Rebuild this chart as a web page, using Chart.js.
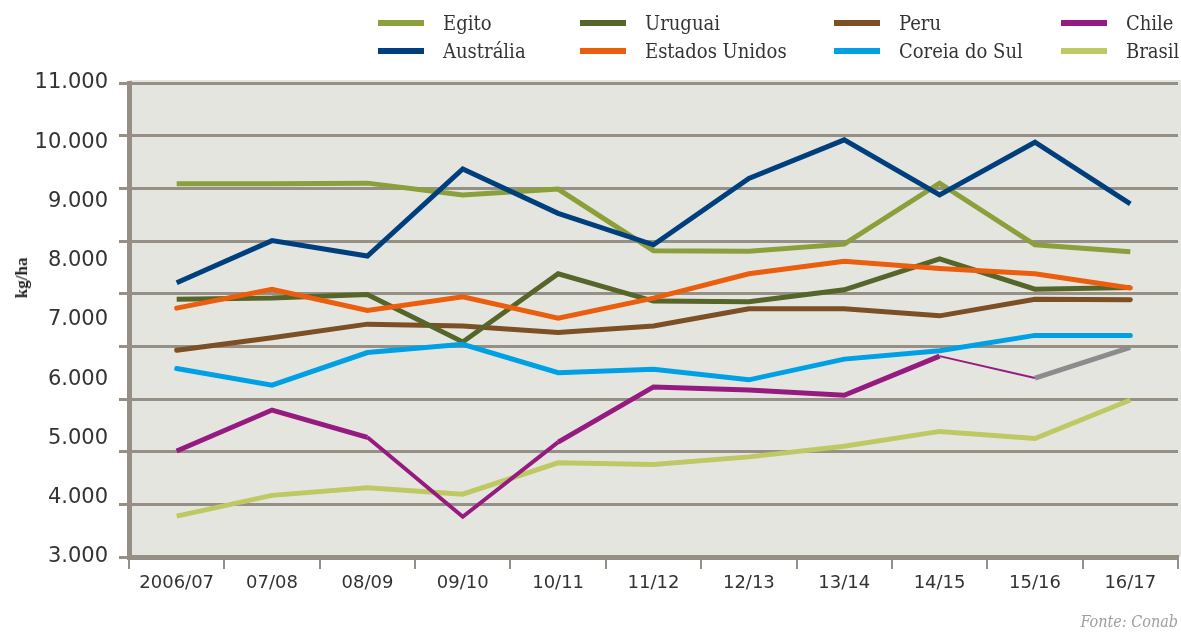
<!DOCTYPE html>
<html>
<head>
<meta charset="utf-8">
<script src="https://cdn.jsdelivr.net/npm/chart.js@4.4.0/dist/chart.umd.min.js"></script>
<style>
html,body{margin:0;padding:0;background:#ffffff;}
#wrap{position:relative;width:1181px;height:632px;overflow:hidden;background:#ffffff;}
#c{position:absolute;left:0;top:0;}
.li{position:absolute;height:28px;display:flex;align-items:center;font-family:"DejaVu Serif Condensed","DejaVu Serif",serif;font-stretch:condensed;font-size:20px;color:#333333;white-space:nowrap;}
.sw{position:absolute;left:0;top:11px;width:46px;height:6px;}
.lt{position:absolute;left:65px;top:0;line-height:28px;}
#ytitle{position:absolute;left:22px;top:278px;transform:translate(-50%,-50%) rotate(-90deg);font:bold 17px "Liberation Serif",serif;color:#222;white-space:nowrap;}
#src{position:absolute;right:3px;top:612px;font-family:"DejaVu Serif Condensed","DejaVu Serif",serif;font-stretch:condensed;font-style:italic;font-size:16px;color:#a0a0a0;}
</style>
</head>
<body>
<div id="wrap">
<canvas id="c" width="1181" height="632"></canvas>
<div id="legend"></div>
<div id="ytitle">kg/ha</div>
<div id="src">Fonte: Conab</div>
</div>
<script>
// ---- data ----
const categories = ['2006/07','07/08','08/09','09/10','10/11','11/12','12/13','13/14','14/15','15/16','16/17'];
const egito         = [9300, 9300, 9310, 9110, 9210, 8170, 8160, 8280, 9310, 8270, 8150];
const australia     = [7630, 8340, 8080, 9550, 8800, 8270, 9390, 10040, 9110, 10000, 8960];
const uruguai       = [7350, 7370, 7430, 6630, 7780, 7320, 7310, 7510, 8030, 7520, 7550];
const estadosUnidos = [7200, 7520, 7160, 7390, 7030, 7370, 7780, 7990, 7870, 7780, 7540];
const peru          = [6490, 6700, 6930, 6900, 6790, 6900, 7190, 7190, 7070, 7350, 7340];
const coreiaDoSul   = [6180, 5900, 6450, 6590, 6110, 6170, 5990, 6340, 6480, 6740, 6740];
const chile         = [4790, 5480, 5020, 3680, 4940, 5870, 5820, 5730, 6390, 6020, 6540];
const brasil        = [3690, 4040, 4170, 4060, 4590, 4560, 4690, 4870, 5120, 5000, 5650];
const yMin = 3000, yMax = 11000, yStep = 1000;
const gridCount = 9;
const legendOrder = ['Egito','Uruguai','Peru','Chile','Austrália','Estados Unidos','Coreia do Sul','Brasil'];

const GRID = '#958f86';
function fmt(v){ return String(v).replace(/\B(?=(\d{3})+(?!\d))/g, '.'); }

function ds(label, data, color, order, extra){
  return Object.assign({
    label: label, data: data, borderColor: color, backgroundColor: color,
    borderWidth: 5, pointRadius: 0, pointHoverRadius: 0, tension: 0,
    borderJoinStyle: 'miter', borderCapStyle: 'butt', fill: false, order: order
  }, extra || {});
}

const datasets = [
  ds('Egito', egito, '#8b9f3b', 4),
  ds('Austrália', australia, '#003f7d', 3),
  ds('Uruguai', uruguai, '#56652a', 5),
  ds('Estados Unidos', estadosUnidos, '#eb5e0e', 2, {borderCapStyle:'round'}),
  ds('Peru', peru, '#7c4f24', 6, {borderCapStyle:'round'}),
  ds('Coreia do Sul', coreiaDoSul, '#00a1e4', 1, {borderCapStyle:'round'}),
  ds('Chile', chile, '#961b80', 7, {
    segment: {
      borderColor: c => c.p0DataIndex === 9 ? '#8c8c8c' : undefined,
      borderWidth: c => c.p0DataIndex === 8 ? 2 : (c.p0DataIndex === 2 || c.p0DataIndex === 3 ? 4 : undefined)
    }
  }),
  ds('Brasil', brasil, '#bec963', 8)
];

const bgPlugin = {
  id: 'plotBg',
  beforeDraw(chart){
    const a = chart.chartArea, ctx = chart.ctx;
    ctx.save();
    ctx.fillStyle = '#e5e5e0';
    ctx.fillRect(a.left, a.top - 3, chart.width - a.left, a.bottom - a.top + 3);
    ctx.restore();
  }
};

new Chart(document.getElementById('c'), {
  type: 'line',
  data: { labels: categories, datasets: datasets },
  plugins: [bgPlugin],
  options: {
    responsive: false,
    animation: false,
    devicePixelRatio: 1,
    layout: { padding: { top: 83, right: 3, bottom: 40, left: 0 } },
    plugins: { legend: { display: false }, tooltip: { enabled: false } },
    scales: {
      x: {
        type: 'category', offset: true,
        grid: { display: true, drawOnChartArea: false, drawTicks: true, tickLength: 12, offset: true, color: GRID, lineWidth: 2 },
        border: { display: true, color: GRID, width: 5 },
        ticks: { color: '#333333', font: { family: 'DejaVu Sans', size: 18 }, padding: 4, maxRotation: 0, autoSkip: false },
        afterFit(s){ s.height = 35; }
      },
      y: {
        position: 'left', min: yMin, max: yMax, weight: 1,
        ticks: { stepSize: yStep, color: '#333333', font: { family: 'DejaVu Sans', size: 21 }, padding: 11, callback: v => fmt(v) },
        grid: { display: false, drawTicks: false }, border: { display: false },
        afterFit(s){ s.width = 119; }
      },
      yGrid: {
        type: 'linear', position: 'left', min: 0, max: gridCount, weight: 0,
        ticks: { display: false, stepSize: 1 },
        grid: { display: true, color: GRID, lineWidth: 3, tickLength: 10, drawTicks: true },
        border: { display: true, color: GRID, width: 5 },
        afterFit(s){ s.width = 10; }
      }
    }
  }
});

// HTML legend built from the datasets
const colX = [378, 580, 834, 1061];
const rowY = [9, 37];
const legend = document.getElementById('legend');
legendOrder.forEach((name, i) => {
  const d = datasets.find(x => x.label === name);
  const el = document.createElement('div');
  el.className = 'li';
  el.style.left = colX[i % 4] + 'px';
  el.style.top = rowY[Math.floor(i / 4)] + 'px';
  el.style.width = '200px';
  const sw = document.createElement('span');
  sw.className = 'sw';
  sw.style.background = d.borderColor;
  const t = document.createElement('span');
  t.className = 'lt';
  t.textContent = name;
  el.appendChild(sw); el.appendChild(t);
  legend.appendChild(el);
});
</script>
</body>
</html>
